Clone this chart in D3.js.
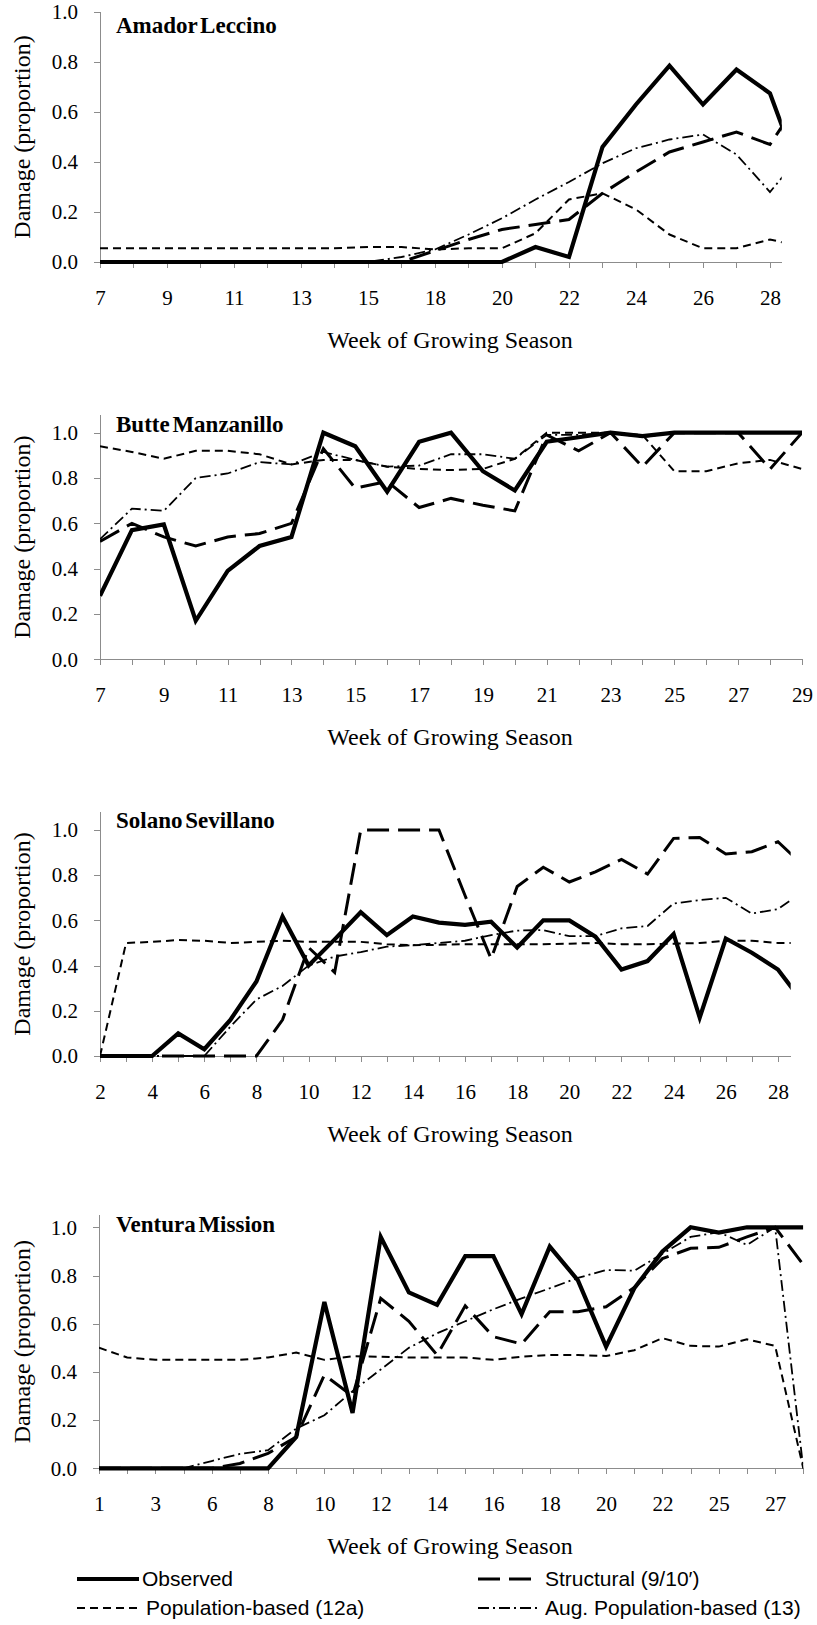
<!DOCTYPE html>
<meta charset="utf-8">
<head>
  <title>Damage by week of growing season</title>
</head>
<style>
    body {
        margin: 0;
        background-color: #ffffff;
    }

    .axis .tick line, .axis path.domain, line.yline {
        stroke: #8c8c8c;
        stroke-width: 1px;
        shape-rendering: crispEdges;
    }

    path.series {
        fill: none;
        stroke: #000;
    }
</style>
<body>
    <svg id="chart" width="817" height="1625"></svg>

    <script src="https://d3js.org/d3.v7.min.js"></script>

    <script>
        // Amador Leccino (last week sits past the cropped edge)
        var amadorWeeks      = [7,8,9,10,11,12,13,14,15,16,18,19,20,21,22,23,24,25,26,27,28,29];
        var amadorObserved   = [0,0,0,0,0,0,0,0,0,0,0,0,0,0.06,0.02,0.46,0.63,0.785,0.63,0.77,0.675,0.31];
        var amadorStructural = [0,0,0,0,0,0,0,0,0,0,0.045,0.09,0.13,0.15,0.17,0.275,0.36,0.44,0.48,0.52,0.47,0.67];
        var amadorPop        = [0.055,0.055,0.055,0.055,0.055,0.055,0.055,0.055,0.06,0.06,0.05,0.055,0.055,0.115,0.25,0.275,0.21,0.11,0.055,0.055,0.09,0.06];
        var amadorAug        = [0,0,0,0,0,0,0,0,0,0.02,0.05,0.11,0.175,0.25,0.32,0.395,0.455,0.49,0.51,0.43,0.28,0.44];

        // Butte Manzanillo
        var butteWeeks      = [7,8,9,10,11,12,13,14,15,16,17,18,19,20,21,22,23,24,25,26,27,28,29];
        var butteObserved   = [0.28,0.57,0.595,0.17,0.39,0.50,0.54,1.0,0.94,0.74,0.96,1.0,0.83,0.745,0.96,0.98,1.0,0.985,1.0,1.0,1.0,1.0,1.0];
        var butteStructural = [0.52,0.60,0.54,0.50,0.54,0.555,0.60,0.93,0.755,0.785,0.67,0.71,0.68,0.655,0.99,0.92,1.0,0.85,1.0,1.0,1.0,0.84,1.0];
        var buttePop        = [0.94,0.915,0.885,0.92,0.92,0.905,0.86,0.88,0.88,0.85,0.84,0.835,0.84,0.885,1.0,1.0,1.0,0.99,0.83,0.83,0.865,0.88,0.84];
        var butteAug        = [0.53,0.665,0.655,0.80,0.82,0.87,0.86,0.915,0.88,0.85,0.855,0.905,0.905,0.885,0.99,0.99,1.0,0.98,1.0,1.0,1.0,1.0,1.0];

        // Solano Sevillano (last week past the cropped edge)
        var solanoWeeks      = [2,3,4,5,6,7,8,9,10,11,12,13,14,15,16,17,18,19,20,21,22,23,24,25,26,27,28,29];
        var solanoObserved   = [0,0,0,0.10,0.03,0.16,0.33,0.617,0.40,0.516,0.636,0.535,0.617,0.59,0.58,0.594,0.48,0.60,0.60,0.528,0.383,0.42,0.54,0.17,0.52,0.457,0.383,0.23];
        var solanoStructural = [0,0,0,0,0,0,0,0.16,0.48,0.37,1.0,1.0,1.0,1.0,0.71,0.43,0.75,0.835,0.77,0.815,0.87,0.805,0.963,0.967,0.894,0.904,0.948,0.84];
        var solanoPop        = [0,0.50,0.505,0.513,0.51,0.50,0.505,0.51,0.505,0.505,0.505,0.495,0.49,0.492,0.495,0.495,0.495,0.495,0.497,0.50,0.495,0.495,0.497,0.50,0.51,0.51,0.50,0.50];
        var solanoAug        = [0,0,0,0,0,0.13,0.25,0.31,0.40,0.44,0.46,0.484,0.49,0.50,0.51,0.535,0.555,0.557,0.53,0.53,0.565,0.575,0.675,0.69,0.70,0.63,0.65,0.73];

        // Ventura Mission
        var venturaWeeks      = [1,2,3,5,6,7,8,9,10,11,12,13,14,15,16,17,18,19,20,21,22,23,25,26,27,28];
        var venturaObserved   = [0,0,0,0,0,0,0,0.13,0.69,0.23,0.96,0.73,0.678,0.88,0.88,0.64,0.92,0.78,0.505,0.747,0.90,1.0,0.978,1.0,1.0,1.0];
        var venturaStructural = [0,0,0,0,0,0.02,0.062,0.13,0.387,0.30,0.705,0.61,0.47,0.674,0.546,0.516,0.65,0.65,0.67,0.75,0.87,0.913,0.917,0.96,1.0,0.845];
        var venturaPop        = [0.50,0.46,0.45,0.45,0.45,0.45,0.46,0.48,0.45,0.465,0.463,0.46,0.46,0.46,0.45,0.463,0.47,0.47,0.466,0.49,0.54,0.508,0.505,0.535,0.508,0];
        var venturaAug        = [0,0,0,0,0.03,0.06,0.075,0.165,0.22,0.32,0.41,0.50,0.56,0.61,0.66,0.705,0.747,0.79,0.823,0.82,0.89,0.96,0.98,0.927,1.0,0];

        var yTicks = [0, 0.2, 0.4, 0.6, 0.8, 1.0];
        var xTitle = "Week of Growing Season";
        var yTitle = "Damage (proportion)";

        var seriesNames = ["Observed", "Structural (9/10\u2032)", "Population-based (12a)", "Aug. Population-based (13)"];
        var seriesStyle = {
            pop:        { width: 2,   dash: "8,5" },
            aug:        { width: 1.8, dash: "11,4,2,4" },
            structural: { width: 3,   dash: "22,9" },
            observed:   { width: 4.2, dash: null }
        };

        var serif = '"Liberation Serif", "Times New Roman", Times, serif';
        var sans = '"Liberation Sans", Arial, sans-serif';

        // layout of each panel, in page pixels
        var panels = [
            { title: "Amador Leccino",   weeks: amadorWeeks,  observed: amadorObserved,  structural: amadorStructural,  pop: amadorPop,  aug: amadorAug,
              left: 100, right: 781.7, xMax: 20.35, yZero: 262,    yOne: 12,     top: 12,   titleY: 33 },
            { title: "Butte Manzanillo", weeks: butteWeeks,   observed: butteObserved,   structural: butteStructural,   pop: buttePop,   aug: butteAug,
              left: 100, right: 802,   xMax: 22,    yZero: 659.3,  yOne: 432.7,  top: 415,  titleY: 432 },
            { title: "Solano Sevillano", weeks: solanoWeeks,  observed: solanoObserved,  structural: solanoStructural,  pop: solanoPop,  aug: solanoAug,
              left: 100, right: 790.7, xMax: 26.49, yZero: 1056,   yOne: 830,    top: 812,  titleY: 828 },
            { title: "Ventura Mission",  weeks: venturaWeeks, observed: venturaObserved, structural: venturaStructural, pop: venturaPop, aug: venturaAug,
              left: 99,  right: 803.3, xMax: 25,    yZero: 1468.3, yOne: 1227.3, top: 1215, titleY: 1232 }
        ];

        var svg = d3.select("#chart");
        svg.append("rect").attr("width", 817).attr("height", 1625).attr("fill", "#fff");

        var defs = svg.append("defs");

        panels.forEach(function(p, pi) {
            var x = d3.scaleLinear().domain([0, p.xMax]).range([p.left, p.right]);
            var y = d3.scaleLinear().domain([0, 1]).range([p.yZero, p.yOne]);

            var g = svg.append("g").attr("class", "panel");

            // y axis line runs a little above 1.0 on most panels
            g.append("line")
                .attr("class", "yline")
                .attr("x1", p.left).attr("x2", p.left)
                .attr("y1", p.yZero).attr("y2", p.top);

            g.append("g")
                .attr("class", "axis")
                .attr("transform", "translate(" + p.left + ",0)")
                .call(d3.axisLeft(y).tickValues(yTicks).tickFormat(d3.format(".1f")).tickSize(6).tickPadding(16))
                .call(function(a) { a.select(".domain").remove(); });

            var idx = d3.range(p.weeks.length).filter(function(i) { return i <= p.xMax + 1e-6; });

            g.append("g")
                .attr("class", "axis")
                .attr("transform", "translate(0," + p.yZero + ")")
                .call(d3.axisBottom(x)
                    .tickValues(idx)
                    .tickFormat(function(i) { return i % 2 === 0 ? p.weeks[i] : ""; })
                    .tickSize(6)
                    .tickSizeOuter(0)
                    .tickPadding(22));

            g.selectAll(".axis text")
                .attr("font-family", null)
                .style("font-family", serif)
                .style("font-size", "21px")
                .style("fill", "#000");

            // clip lines at the cropped right edge
            var clipId = "clip" + pi;
            defs.append("clipPath").attr("id", clipId)
                .append("rect")
                .attr("x", p.left).attr("y", p.top - 20)
                .attr("width", p.right - p.left)
                .attr("height", p.yZero - p.top + 30);

            var line = d3.line()
                .x(function(d, i) { return x(i); })
                .y(function(d) { return y(d); });

            var lines = g.append("g").attr("clip-path", "url(#" + clipId + ")");

            ["pop", "aug", "structural", "observed"].forEach(function(key) {
                var st = seriesStyle[key];
                lines.append("path")
                    .datum(p[key])
                    .attr("class", "series " + key)
                    .attr("d", line)
                    .attr("stroke-width", st.width)
                    .attr("stroke-dasharray", st.dash);
            });

            g.append("text")
                .attr("x", 116)
                .attr("y", p.titleY)
                .style("font-family", serif)
                .style("font-weight", "bold")
                .style("font-size", "23px")
                .style("word-spacing", "-3px")
                .text(p.title);

            g.append("text")
                .attr("text-anchor", "middle")
                .attr("transform", "translate(30," + ((p.yZero + p.top) / 2) + ") rotate(-90)")
                .style("font-family", serif)
                .style("font-size", "24px")
                .text(yTitle);

            g.append("text")
                .attr("text-anchor", "middle")
                .attr("x", 450)
                .attr("y", p.yZero + 86)
                .style("font-family", serif)
                .style("font-size", "24px")
                .text(xTitle);
        });

        // legend
        var legendItems = [
            { key: "observed",   name: seriesNames[0], lx: 77,  ly: 1579, tx: 142 },
            { key: "structural", name: seriesNames[1], lx: 478, ly: 1579, tx: 545 },
            { key: "pop",        name: seriesNames[2], lx: 77,  ly: 1608, tx: 146 },
            { key: "aug",        name: seriesNames[3], lx: 478, ly: 1608, tx: 545 }
        ];

        var legend = svg.append("g").attr("class", "legend-group");

        legend.selectAll("line.legend-line")
            .data(legendItems)
            .enter()
            .append("line")
            .attr("class", "legend-line")
            .attr("x1", function(d) { return d.lx; })
            .attr("x2", function(d) { return d.lx + 62; })
            .attr("y1", function(d) { return d.ly; })
            .attr("y2", function(d) { return d.ly; })
            .attr("stroke", "#000")
            .attr("stroke-width", function(d) { return seriesStyle[d.key].width; })
            .attr("stroke-dasharray", function(d) { return seriesStyle[d.key].dash; });

        legend.selectAll("text.legend")
            .data(legendItems)
            .enter()
            .append("text")
            .attr("class", "legend")
            .attr("x", function(d) { return d.tx; })
            .attr("y", function(d) { return d.ly; })
            .attr("dy", "0.35em")
            .style("font-family", sans)
            .style("font-size", "21px")
            .text(function(d) { return d.name; });
    </script>
</body>
